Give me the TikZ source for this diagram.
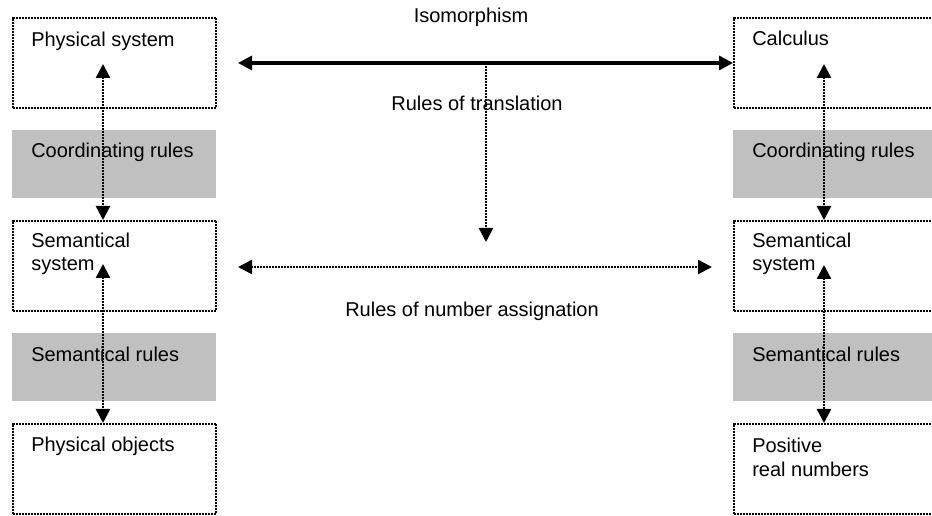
\documentclass[tikz,border=0pt]{standalone}
\usepackage{fontspec}
\setmainfont{Liberation Sans}
\usetikzlibrary{arrows.meta}
\definecolor{rulegray}{RGB}{192,192,192}
\begin{document}
\begin{tikzpicture}[x=0.75pt,y=-0.75pt,
  every node/.style={font=\fontsize{15}{17.25}\selectfont},
  framebox/.style={draw=black,line width=1.5pt,dash pattern=on 1.5pt off 0.75pt,
    rectangle,inner sep=0pt,anchor=north west,minimum width=152.5pt,minimum height=67.5pt},
  rulebox/.style={fill=rulegray,draw=none,rectangle,inner sep=0pt,anchor=north west,
    minimum width=153pt,minimum height=51pt},
  label/.style={anchor=base west,inner sep=0pt,align=left},
  caption/.style={anchor=base,inner sep=0pt},
  dotarrow/.style={line width=1.8pt,dash pattern=on 1.5pt off 0.75pt},
  thickarrow/.style={line width=2.4pt},
  both/.style={{Triangle[length=10.5pt,width=10.5pt]}-{Triangle[length=10.5pt,width=10.5pt]}},
  oneway/.style={-{Triangle[length=10.5pt,width=10.5pt]}}]
\useasboundingbox (0,0) rectangle (932,516);

% left column: boxes
\node[framebox] (lphys) at (12,17) {};
\node[rulebox]  (lcoord) at (12,130) {};
\node[framebox] (lsem) at (12,220) {};
\node[rulebox]  (lrules) at (12,333) {};
\node[framebox] (lobj) at (12,423) {};

% right column: boxes (their right side runs past the page edge)
\node[framebox] (rcalc) at (733,17) {};
\node[rulebox]  (rcoord) at (733,130) {};
\node[framebox] (rsem) at (733,220) {};
\node[rulebox]  (rrules) at (733,333) {};
\node[framebox] (rnum) at (733,423) {};

% box labels (base of a two-line label is its last line)
\node[label] (tphys) at (31,47) {Physical system};
\node[label] (tlcoord) at (31,158) {Coordinating rules};
\node[label] (tlsem) at (31,271) {Semantical\\system};
\node[label] (tlrules) at (31,362) {Semantical rules};
\node[label] (tobj) at (31,452) {Physical objects};

\node[label] (tcalc) at (752,46) {Calculus};
\node[label] (trcoord) at (752,158) {Coordinating rules};
\node[label] (trsem) at (752,271) {Semantical\\system};
\node[label] (trrules) at (752,362) {Semantical rules};
\node[label] (tnum) at (752,476) {Positive\\real numbers};

% captions of the middle connectors
\node[caption] (tiso) at (471,23) {Isomorphism};
\node[caption] (ttrans) at (477,111) {Rules of translation};
\node[caption] (tassign) at (472,317) {Rules of number assignation};

% connector end points
\coordinate (lphys-in) at (103,64);
\coordinate (lsem-top) at (103,220);
\coordinate (lsem-in) at (103,264);
\coordinate (lobj-top) at (103,423);
\coordinate (rcalc-in) at (824,64);
\coordinate (rsem-top) at (824,220);
\coordinate (rsem-in) at (824,265);
\coordinate (rnum-top) at (824,423);
\coordinate (iso-l) at (238,63);
\coordinate (iso-r) at (733,63);
\coordinate (trans-top) at (486,63);
\coordinate (trans-end) at (486,242);
\coordinate (assign-l) at (238,267);
\coordinate (assign-r) at (712,267);

% vertical connectors in the columns
\draw[dotarrow,both] (lphys-in) -- (lsem-top);
\draw[dotarrow,both] (lsem-in) -- (lobj-top);
\draw[dotarrow,both] (rcalc-in) -- (rsem-top);
\draw[dotarrow,both] (rsem-in) -- (rnum-top);

% isomorphism, translation and number assignation
\draw[thickarrow,both] (iso-l) -- (iso-r);
\draw[dotarrow,oneway] (trans-top) -- (trans-end);
\draw[dotarrow,both] (assign-l) -- (assign-r);
\end{tikzpicture}
\end{document}
